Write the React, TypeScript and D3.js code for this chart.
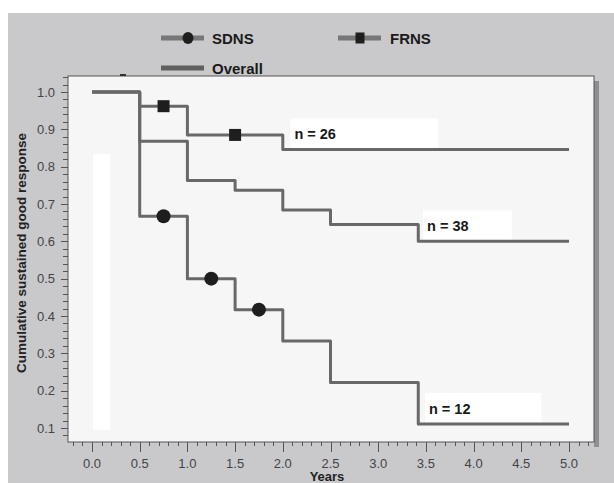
import React, { useEffect, useRef } from "react";
import * as d3 from "d3";

// step survival curves
const sdnsTimes = [0, 0.5, 1.0, 1.5, 2.0, 2.5, 3.42, 5.0];
const sdnsValues = [1.0, 0.667, 0.5, 0.417, 0.333, 0.222, 0.111, 0.111];
const frnsTimes = [0, 0.5, 1.0, 2.0, 5.0];
const frnsValues = [1.0, 0.962, 0.885, 0.846, 0.846];
const overallTimes = [0, 0.5, 1.0, 1.5, 2.0, 2.5, 3.42, 5.0];
const overallValues = [1.0, 0.868, 0.763, 0.737, 0.684, 0.645, 0.6, 0.6];

const sdnsMarkerTimes = [0.75, 1.25, 1.75];
const sdnsMarkerValues = [0.667, 0.5, 0.417];
const frnsMarkerTimes = [0.75, 1.5];
const frnsMarkerValues = [0.962, 0.885];

const nLabels = ["n = 26", "n = 38", "n = 12"];
const nLabelTimes = [2.08, 3.47, 3.49];
const nLabelEnds = [3.63, 4.4, 4.71];
const nLabelValues = [0.846, 0.6, 0.111];

const legendNames = ["SDNS", "FRNS", "Overall"];
const xTicks = [0, 0.5, 1, 1.5, 2, 2.5, 3, 3.5, 4, 4.5, 5];
const yTicks = [0.1, 0.2, 0.3, 0.4, 0.5, 0.6, 0.7, 0.8, 0.9, 1.0];

const W = 614, H = 483;
const lineColor = "#686868";
const markColor = "#1e1e1e";
const font = "Liberation Sans, Arial, sans-serif";

export default function App() {
  const ref = useRef<SVGSVGElement>(null);

  useEffect(() => {
    const svg = d3.select(ref.current);
    svg.selectAll("*").remove();

    const x = d3.scaleLinear().domain([0, 5]).range([92, 569]);
    const y = d3.scaleLinear().domain([0.1, 1.0]).range([428, 92]);
    const left = 68, right = 594, top = 76, bottom = 442;

    // backgrounds
    svg.append("rect").attr("width", W).attr("height", H).attr("fill", "#fff");
    svg.append("rect").attr("x", 8).attr("y", 13).attr("width", W - 8).attr("height", H - 13).attr("fill", "#c9c9cb");
    svg.append("rect").attr("x", right).attr("y", 81).attr("width", 5).attr("height", bottom - 81 + 5).attr("fill", "#8f8f8f");
    svg.append("rect").attr("x", left).attr("y", top).attr("width", right - left).attr("height", bottom - top)
      .attr("fill", "#f6f6f6").attr("stroke", "#555").attr("stroke-width", 1);

    // white strip
    svg.append("rect").attr("x", x(0.01)).attr("y", y(0.834)).attr("width", x(0.19) - x(0.01))
      .attr("height", y(0.095) - y(0.834)).attr("fill", "#fff");
    svg.append("line").attr("x1", 120).attr("x2", 126).attr("y1", 75).attr("y2", 75)
      .attr("stroke", "#333").attr("stroke-width", 2);

    // y axis
    const yMinor = d3.range(0.08, 1.041, 0.02);
    const yAx = svg.append("g").attr("transform", `translate(${left},0)`);
    yAx.selectAll("line.minor").data(yMinor).join("line")
      .attr("x1", -5).attr("x2", 0).attr("y1", (d) => Math.round(y(d)) + 0.5).attr("y2", (d) => Math.round(y(d)) + 0.5)
      .attr("stroke", "#555");
    yAx.selectAll("line.major").data(yTicks).join("line")
      .attr("x1", -7).attr("x2", 0).attr("y1", (d) => Math.round(y(d)) + 0.5).attr("y2", (d) => Math.round(y(d)) + 0.5)
      .attr("stroke", "#555");
    yAx.selectAll("text").data(yTicks).join("text")
      .attr("x", -13).attr("y", (d) => y(d)).attr("dy", "0.35em").attr("text-anchor", "end")
      .attr("font-family", font).attr("font-size", 13).attr("fill", "#444")
      .text((d) => d3.format(".1f")(d));

    // x axis
    const xMinor = d3.range(-0.2, 5.21, 0.1);
    const xAx = svg.append("g").attr("transform", `translate(0,${bottom})`);
    xAx.selectAll("line.minor").data(xMinor).join("line")
      .attr("y1", 0).attr("y2", 4).attr("x1", (d) => Math.round(x(d)) + 0.5).attr("x2", (d) => Math.round(x(d)) + 0.5)
      .attr("stroke", "#555");
    xAx.selectAll("line.major").data(xTicks).join("line")
      .attr("y1", 0).attr("y2", 10).attr("x1", (d) => Math.round(x(d)) + 0.5).attr("x2", (d) => Math.round(x(d)) + 0.5)
      .attr("stroke", "#555");
    xAx.selectAll("text").data(xTicks).join("text")
      .attr("x", (d) => x(d)).attr("y", 21).attr("dy", "0.35em").attr("text-anchor", "middle")
      .attr("font-family", font).attr("font-size", 13).attr("fill", "#444")
      .text((d) => d3.format(".1f")(d));

    // axis titles
    svg.append("text").attr("x", 327).attr("y", 481).attr("text-anchor", "middle")
      .attr("font-family", font).attr("font-size", 13).attr("font-weight", "bold")
      .attr("fill", "#222").text("Years");
    svg.append("text").attr("transform", `translate(26,253) rotate(-90)`).attr("text-anchor", "middle")
      .attr("font-family", font).attr("font-size", 13.5).attr("font-weight", "bold")
      .attr("fill", "#222").text("Cumulative sustained good response");

    // n labels boxes
    nLabels.forEach((t, i) => {
      const bx = x(nLabelTimes[i]);
      const by = y(nLabelValues[i]) - 31;
      svg.append("rect").attr("x", bx).attr("y", by).attr("width", x(nLabelEnds[i]) - bx).attr("height", 30).attr("fill", "#fff");
      svg.append("text").attr("x", bx + 4).attr("y", by + 21)
        .attr("font-family", font).attr("font-size", 14.5).attr("font-weight", "bold")
        .attr("fill", "#1a1a1a").text(t);
    });

    // curves
    const line = d3.line<[number, number]>().x((d) => x(d[0])).y((d) => y(d[1])).curve(d3.curveStepAfter);
    const curves = [
      [overallTimes, overallValues],
      [frnsTimes, frnsValues],
      [sdnsTimes, sdnsValues],
    ];
    curves.forEach(([ts, vs]) => {
      svg.append("path").attr("d", line(ts.map((t, i) => [t, vs[i]]) as [number, number][]))
        .attr("fill", "none").attr("stroke", lineColor).attr("stroke-width", 3).attr("stroke-linejoin", "round");
    });

    svg.selectAll("circle.m").data(sdnsMarkerTimes).join("circle")
      .attr("cx", (d) => x(d)).attr("cy", (d, i) => y(sdnsMarkerValues[i])).attr("r", 7).attr("fill", markColor);
    svg.selectAll("rect.m").data(frnsMarkerTimes).join("rect")
      .attr("x", (d) => x(d) - 6).attr("y", (d, i) => y(frnsMarkerValues[i]) - 6).attr("width", 12).attr("height", 12)
      .attr("fill", markColor);

    // legend
    const lg = svg.append("g").attr("font-family", font).attr("font-size", 15)
      .attr("font-weight", "bold").attr("fill", "#1a1a1a");
    lg.append("line").attr("x1", 161).attr("x2", 204).attr("y1", 38).attr("y2", 38).attr("stroke", "#777").attr("stroke-width", 5);
    lg.append("ellipse").attr("cx", 188).attr("cy", 38).attr("rx", 5.5).attr("ry", 6).attr("fill", markColor);
    lg.append("text").attr("x", 212).attr("y", 43.5).text(legendNames[0]);
    lg.append("line").attr("x1", 338).attr("x2", 381).attr("y1", 38).attr("y2", 38).attr("stroke", "#777").attr("stroke-width", 5);
    lg.append("rect").attr("x", 355.5).attr("y", 32.5).attr("width", 9).attr("height", 11).attr("fill", markColor);
    lg.append("text").attr("x", 390).attr("y", 43.5).text(legendNames[1]);
    lg.append("line").attr("x1", 161).attr("x2", 204).attr("y1", 68).attr("y2", 68).attr("stroke", "#606060").attr("stroke-width", 5);
    lg.append("text").attr("x", 212).attr("y", 74).text(legendNames[2]);
  }, []);

  return (
    <svg ref={ref} width={W} height={H} style={{ position: "absolute", left: 0, top: 0 }} />
  );
}
